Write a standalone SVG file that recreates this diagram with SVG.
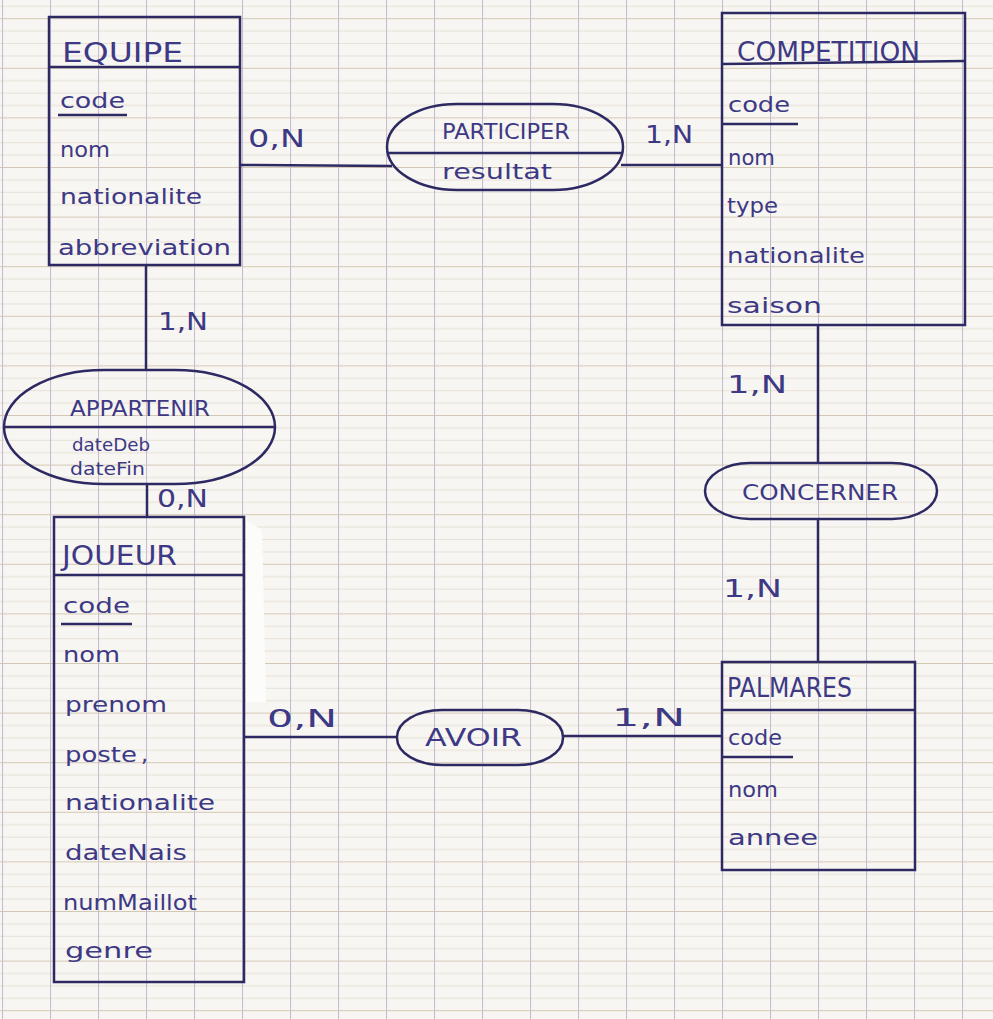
<svg xmlns="http://www.w3.org/2000/svg" width="993" height="1019" viewBox="0 0 993 1019">
<defs>
<pattern id="grid" patternUnits="userSpaceOnUse" x="2" y="18.2" width="48" height="49.6">
<line x1="0" y1="0.5" x2="48" y2="0.5" stroke="#d3c8b4" stroke-width="1.1"/>
<line x1="0" y1="12.9" x2="48" y2="12.9" stroke="#e6e0d6" stroke-width="1"/>
<line x1="0" y1="25.3" x2="48" y2="25.3" stroke="#e6e0d6" stroke-width="1"/>
<line x1="0" y1="37.7" x2="48" y2="37.7" stroke="#e6e0d6" stroke-width="1"/>
<line x1="0.5" y1="0" x2="0.5" y2="49.6" stroke="#c4bfd0" stroke-width="1.2"/>
</pattern>
<style>
.box{fill:none;stroke:#2d2962;stroke-width:2.5}
.rel{fill:none;stroke:#2d2962;stroke-width:2.5}
.sep{stroke:#2d2962;stroke-width:2.5}
.con{stroke:#2d2962;stroke-width:2.5;fill:none}
.t{font-family:"DejaVu Sans",sans-serif;fill:#3d3985}
.ti{font-size:27px}
.at{font-size:22px}
.sm{font-size:17px}
.cd{font-size:24px}
</style>
</defs>
<rect width="993" height="1019" fill="#f8f6f2"/>
<rect width="993" height="1019" fill="url(#grid)"/>
<polygon points="246,520 262,530 266,702 246,702" fill="#fcfcfa"/>

<g id="connectors">
<line class="con" x1="240" y1="165" x2="392" y2="166"/>
<line class="con" x1="621" y1="165" x2="722" y2="165"/>
<line class="con" x1="146" y1="265" x2="146" y2="370"/>
<line class="con" x1="147" y1="484" x2="147" y2="517"/>
<line class="con" x1="818" y1="325" x2="818" y2="463"/>
<line class="con" x1="818" y1="519" x2="818" y2="662"/>
<line class="con" x1="244" y1="737" x2="398" y2="737"/>
<line class="con" x1="562" y1="736" x2="722" y2="736"/>
<text class="t cd" x="248" y="147" textLength="57" lengthAdjust="spacingAndGlyphs">0,N</text>
<text class="t cd" x="645" y="143" textLength="48" lengthAdjust="spacingAndGlyphs">1,N</text>
<text class="t cd" x="158" y="330" textLength="50" lengthAdjust="spacingAndGlyphs">1,N</text>
<text class="t cd" x="157" y="507" textLength="51" lengthAdjust="spacingAndGlyphs">0,N</text>
<text class="t cd" x="727" y="393" textLength="60" lengthAdjust="spacingAndGlyphs">1,N</text>
<text class="t cd" x="723" y="597" textLength="59" lengthAdjust="spacingAndGlyphs">1,N</text>
<text class="t cd" x="267" y="727" textLength="70" lengthAdjust="spacingAndGlyphs">0,N</text>
<text class="t cd" x="612" y="726" textLength="73" lengthAdjust="spacingAndGlyphs">1,N</text>
</g>

<g id="equipe">
<rect class="box" x="49" y="17" width="191" height="248"/>
<line class="sep" x1="49" y1="67" x2="240" y2="67"/>
<text class="t ti" x="62" y="62" textLength="121" lengthAdjust="spacingAndGlyphs">EQUIPE</text>
<text class="t at" x="60" y="108" textLength="65" lengthAdjust="spacingAndGlyphs">code</text>
<line class="sep" x1="58" y1="115" x2="127" y2="115"/>
<text class="t at" x="60" y="157" textLength="50" lengthAdjust="spacingAndGlyphs">nom</text>
<text class="t at" x="60" y="204" textLength="142" lengthAdjust="spacingAndGlyphs">nationalite</text>
<text class="t at" x="58" y="255" textLength="173" lengthAdjust="spacingAndGlyphs">abbreviation</text>
</g>

<g id="participer">
<rect class="rel" x="387" y="104" width="236" height="86" rx="70" ry="43"/>
<line class="sep" x1="388" y1="153" x2="622" y2="153"/>
<text class="t at" x="442" y="139" textLength="128" lengthAdjust="spacingAndGlyphs">PARTICIPER</text>
<text class="t at" x="442" y="179" textLength="110" lengthAdjust="spacingAndGlyphs">resultat</text>
</g>

<g id="competition">
<rect class="box" x="722" y="13" width="243" height="312"/>
<line class="sep" x1="722" y1="64" x2="965" y2="61"/>
<text class="t ti" x="737" y="61" textLength="183" lengthAdjust="spacingAndGlyphs">COMPETITION</text>
<text class="t at" x="728" y="112" textLength="62" lengthAdjust="spacingAndGlyphs">code</text>
<line class="sep" x1="723" y1="124" x2="798" y2="124"/>
<text class="t at" x="728" y="165" textLength="47" lengthAdjust="spacingAndGlyphs">nom</text>
<text class="t at" x="727" y="213" textLength="51" lengthAdjust="spacingAndGlyphs">type</text>
<text class="t at" x="727" y="263" textLength="138" lengthAdjust="spacingAndGlyphs">nationalite</text>
<text class="t at" x="727" y="313" textLength="95" lengthAdjust="spacingAndGlyphs">saison</text>
</g>

<g id="appartenir">
<rect class="rel" x="4" y="370" width="271" height="114" rx="100" ry="57"/>
<line class="sep" x1="4" y1="427" x2="275" y2="427"/>
<text class="t at" x="70" y="416" textLength="140" lengthAdjust="spacingAndGlyphs">APPARTENIR</text>
<text class="t sm" x="72" y="451" textLength="78" lengthAdjust="spacingAndGlyphs">dateDeb</text>
<text class="t sm" x="70" y="475" textLength="75" lengthAdjust="spacingAndGlyphs">dateFin</text>
</g>

<g id="concerner">
<rect class="rel" x="705" y="463" width="232" height="56" rx="45" ry="28"/>
<text class="t at" x="742" y="500" textLength="156" lengthAdjust="spacingAndGlyphs">CONCERNER</text>
</g>

<g id="joueur">
<rect class="box" x="54" y="517" width="190" height="465"/>
<line class="sep" x1="54" y1="575" x2="244" y2="575"/>
<text class="t ti" x="62" y="565" textLength="115" lengthAdjust="spacingAndGlyphs">JOUEUR</text>
<text class="t at" x="63" y="613" textLength="67" lengthAdjust="spacingAndGlyphs">code</text>
<line class="sep" x1="61" y1="624" x2="132" y2="624"/>
<text class="t at" x="63" y="662" textLength="57" lengthAdjust="spacingAndGlyphs">nom</text>
<text class="t at" x="65" y="712" textLength="102" lengthAdjust="spacingAndGlyphs">prenom</text>
<text class="t at" x="65" y="762"><tspan textLength="72" lengthAdjust="spacingAndGlyphs">poste</tspan><tspan x="141">,</tspan></text>
<text class="t at" x="65" y="810" textLength="150" lengthAdjust="spacingAndGlyphs">nationalite</text>
<text class="t at" x="65" y="860" textLength="122" lengthAdjust="spacingAndGlyphs">dateNais</text>
<text class="t at" x="63" y="910" textLength="134" lengthAdjust="spacingAndGlyphs">numMaillot</text>
<text class="t at" x="65" y="958" textLength="88" lengthAdjust="spacingAndGlyphs">genre</text>
</g>

<g id="avoir">
<rect class="rel" x="397" y="710" width="166" height="55" rx="45" ry="27"/>
<text class="t cd" x="425" y="746" textLength="97" lengthAdjust="spacingAndGlyphs">AVOIR</text>
</g>

<g id="palmares">
<rect class="box" x="722" y="662" width="193" height="208"/>
<line class="sep" x1="722" y1="710" x2="915" y2="710"/>
<text class="t ti" x="727" y="697" textLength="125" lengthAdjust="spacingAndGlyphs">PALMARES</text>
<text class="t at" x="728" y="745" textLength="54" lengthAdjust="spacingAndGlyphs">code</text>
<line class="sep" x1="722" y1="757" x2="793" y2="757"/>
<text class="t at" x="728" y="797" textLength="50" lengthAdjust="spacingAndGlyphs">nom</text>
<text class="t at" x="728" y="845" textLength="90" lengthAdjust="spacingAndGlyphs">annee</text>
</g>
</svg>
